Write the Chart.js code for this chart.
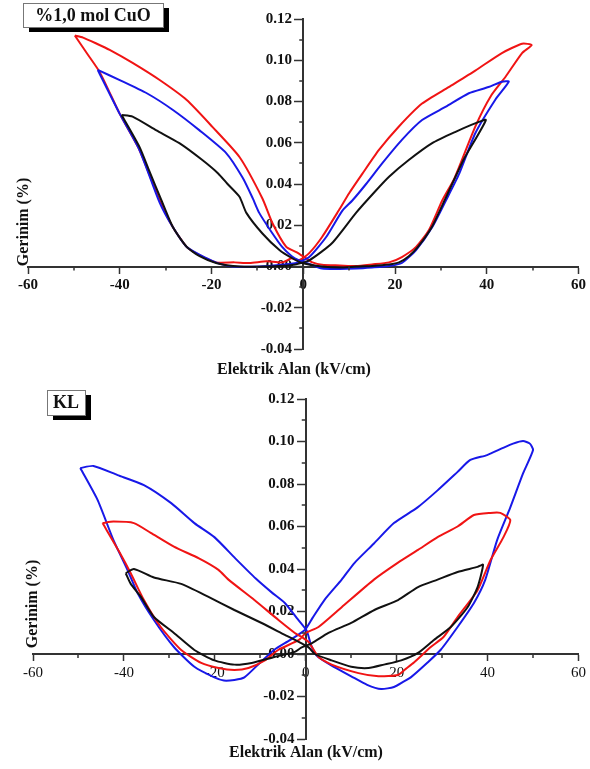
<!DOCTYPE html>
<html>
<head>
<meta charset="utf-8">
<script src="https://cdn.jsdelivr.net/npm/chart.js@4.4.0/dist/chart.umd.min.js"></script>
<style>
  body { margin: 0; background: #fff; }
  canvas { position: absolute; left: 0; }
  #cuo { top: 0; }
  #kl { top: 385px; }
</style>
</head>
<body>
<canvas id="cuo" width="590" height="385"></canvas>
<canvas id="kl" width="590" height="384"></canvas>
<script>
// ---- DATA ----
// top panel: %1,0 mol CuO
const cuoRedE = [-49.8,-48,-45,-42.2,-37.2,-31.3,-25.4,-19.8,-13.9,-8.9,-6.7,-3.7,-1.5,0.6, 2,4.1,8,11.5,15,18.7,21.5,24.6,27.4,30.3,33,37.5,41,44.1,47.7,49.8, 47.7,43.3,37.5,31.7,25.9,20.9,16.5,12.9,10,7.8,4.1,1.3,-0.9, -2.5,-4.6,-8,-11.7,-15,-19,-22.6,-25.4,-28.4,-31.3,-35.7,-40,-44.3,-47.2,-49.8];
const cuoRedS = [0.112,0.111,0.108,0.105,0.0987,0.0904,0.0807,0.0677,0.0531,0.033,0.021,0.0095,0.007,0.004, 0.002,0.0008,0.0005,0.0002,0.001,0.002,0.0046,0.0095,0.0177,0.032,0.043,0.0678,0.083,0.092,0.1035,0.1074, 0.108,0.1035,0.095,0.087,0.079,0.068,0.0565,0.045,0.0355,0.0274,0.0143,0.0065,0.003, 0.004,0.002,0.0025,0.0017,0.002,0.002,0.0055,0.0095,0.019,0.032,0.0565,0.074,0.094,0.1035,0.112];

const cuoBlueE = [-44.8,-40,-34.1,-28.4,-22.6,-16.8,-13.2,-11,-9.6,-7,-4.6,-2.5,-0.9,1, 4.1,8,11.5,15,18.7,21.5,24.6,28.1,31.1,34,37.5,41.9,44.8, 43.3,40.4,36.1,31.1,25.9,21.5,17.2,13.7,10.7,8.5,5,1.3,-1.5, -4,-9.6,-15.4,-18.5,-21.1,-25.4,-28.4,-31.3,-35.7,-40,-44.8];
const cuoBlueS = [0.0953,0.0904,0.084,0.0759,0.066,0.055,0.043,0.033,0.026,0.017,0.0095,0.005,0.003,0.0015, -0.001,-0.0012,-0.001,-0.0005,0.0002,0.0017,0.008,0.019,0.032,0.045,0.0646,0.081,0.0896, 0.0896,0.087,0.084,0.0775,0.071,0.0614,0.05,0.04,0.032,0.027,0.0143,0.0046,0.0017, 0.001,0,0,0.0015,0.004,0.0095,0.019,0.031,0.0565,0.074,0.0953];

const cuoBlackE = [-39.6,-37.2,-32,-27,-22,-18.5,-16.5,-13.9,-12.4,-8.9,-5.2,-2.4,-0.2, 4.1,8,11.5,15,18.7,20.9,23,25,28,31,35,39.8, 37.6,33.2,28.1,23,18.7,15.5,11.5,6.3,1.3, -2.4,-8,-13.9,-19,-22.6,-25.4,-28.4,-30.9,-33.5,-35.7,-39.6];
const cuoBlackS = [0.0735,0.0727,0.066,0.0598,0.0516,0.045,0.04,0.0338,0.026,0.016,0.008,0.004,0.0017, 0,-0.0005,0,0.0003,0.001,0.002,0.005,0.0095,0.019,0.033,0.052,0.071, 0.0695,0.0653,0.0598,0.0516,0.0435,0.036,0.026,0.0114,0.003, 0.0007,0,0,0.0017,0.005,0.0095,0.019,0.032,0.046,0.058,0.0735];

// bottom panel: KL
const klBlueE = [-49.6,-46.7,-41.4,-35.6,-29.6,-24.5,-20.1,-15.5,-11,-7.5,-4.6,-2,0.2,1.2,2.5, 5.7,10,13.5,16.6,19.4,21.5,23.1,26.8,29.7,33.4,37,39.5,42.1,45,47.8,50, 49.3,47.8,45.6,43.4,39.9,36.2,33.4,29,24.6,19.4,15,10.7,7.9,4.1,1.5,-0.2,-3.5,-6.9,-10,-13.5,-15.7,-18,-20.1,-24.5,-29,-33.4,-37,-39.2,-42.3,-45.8,-49.6];
const klBlueS = [0.0875,0.0885,0.0842,0.0795,0.071,0.0616,0.055,0.045,0.0355,0.029,0.024,0.017,0.011,0.004,-0.001, -0.0055,-0.0105,-0.0145,-0.0165,-0.0155,-0.013,-0.011,-0.004,0.002,0.0127,0.024,0.035,0.0536,0.069,0.085,0.096, 0.099,0.1002,0.099,0.097,0.0936,0.0913,0.0857,0.077,0.069,0.0616,0.052,0.0428,0.035,0.0254,0.017,0.0113,0.0065,0.002,-0.004,-0.011,-0.0122,-0.0125,-0.011,-0.006,0.0033,0.016,0.0287,0.0395,0.0536,0.0725,0.0875];

const klRedE = [-44.7,-42.3,-37.8,-34.1,-29,-23.5,-19.2,-17,-11.3,-6,-2.4,-0.9,0.7,2.8, 5.7,11.6,16,20.3,22,23.8,27.5,30.3,33.4,37.8,40.6,43.5,45, 42.8,40.6,37,33.4,29,24.7,20.3,15,7.9,2.8,0, -1.5,-6,-9,-12.6,-15.7,-19.2,-23,-27.4,-31.9,-35.6,-38.5,-41,-44.7];
const klRedS = [0.0616,0.0623,0.0616,0.057,0.0505,0.045,0.0396,0.035,0.0254,0.016,0.0099,0.008,0.0055,-0.0014, -0.005,-0.009,-0.0105,-0.0099,-0.007,-0.004,0.0033,0.008,0.0174,0.03,0.044,0.055,0.063, 0.0664,0.0664,0.0654,0.06,0.055,0.049,0.043,0.035,0.022,0.0127,0.0099, 0.0066,0.002,-0.003,-0.0066,-0.0075,-0.0066,-0.0042,0.0019,0.0127,0.0254,0.038,0.048,0.0616];

const klBlackE = [-39.6,-37.8,-33.4,-27.4,-21.5,-15.7,-9.7,-4.6,-0.9,0.7,2, 5.7,10,13.8,17.2,21,24.7,28.2,31.9,35.6,37.8,39, 37.8,33.4,29,24.7,20.3,15.1,10,5,1.3,-1, -2.4,-6.9,-11.9,-15.7,-20.1,-24.5,-29,-33.4,-36.3,-38.5,-39.6];
const klBlackS = [0.038,0.04,0.036,0.033,0.027,0.0207,0.0146,0.009,0.005,0.003,0, -0.003,-0.006,-0.0066,-0.005,-0.003,0.0005,0.0066,0.0127,0.022,0.0315,0.042, 0.041,0.0386,0.035,0.0315,0.0254,0.0207,0.0146,0.0099,0.005,0.003, 0.001,-0.0014,-0.0042,-0.005,-0.003,0.0019,0.0099,0.0174,0.027,0.033,0.038];

// axis ticks
const xMajorStep = 20;
const yMajorStep = 0.02;
const xMinorTicks = [-50, -30, -10, 10, 30, 50];
const yMinorTicks = [-0.03, -0.01, 0.01, 0.03, 0.05, 0.07, 0.09, 0.11];

const xTitle = 'Elektrik Alan (kV/cm)';
const yTitle = 'Gerinim (%)';

const RED = '#f01414', BLUE = '#1818e8', BLACK = '#111111', AXIS = '#333333';
const SERIF = '"Liberation Serif", "Times New Roman", serif';

function toPoints(xs, ys) {
  return xs.map((x, i) => ({ x: x, y: ys[i] }));
}

function line(label, xs, ys, color) {
  return {
    label: label, data: toPoints(xs, ys), borderColor: color, borderWidth: 2,
    showLine: true, pointRadius: 0, tension: 0.2, fill: false
  };
}

// minor ticks, axis titles and the sample label box
const decorations = {
  id: 'decorations',
  afterDraw(chart, args, o) {
    const ctx = chart.ctx;
    const sx = chart.scales.x, sy = chart.scales.y;
    const x0 = sx.getPixelForValue(0), y0 = sy.getPixelForValue(0);
    ctx.save();
    ctx.strokeStyle = AXIS;
    ctx.lineWidth = 1.5;
    ctx.beginPath();
    xMinorTicks.forEach(v => {
      const px = Math.round(sx.getPixelForValue(v));
      ctx.moveTo(px, y0); ctx.lineTo(px, y0 + 4);
    });
    yMinorTicks.forEach(v => {
      const py = Math.round(sy.getPixelForValue(v));
      ctx.moveTo(x0, py); ctx.lineTo(x0 - 4, py);
    });
    ctx.stroke();

    ctx.fillStyle = '#111';
    ctx.font = 'bold 16px ' + SERIF;
    ctx.textAlign = 'center';
    ctx.textBaseline = 'middle';
    ctx.fillText(xTitle, o.xTitleX, o.xTitleY);
    ctx.save();
    ctx.translate(o.yTitleX, o.yTitleY);
    ctx.rotate(-Math.PI / 2);
    ctx.fillText(yTitle, 0, 0);
    ctx.restore();

    // label box with a drop shadow
    const b = o.box;
    ctx.fillStyle = '#000';
    ctx.fillRect(b.x + 6, b.y + 5, b.w, b.h);
    ctx.fillStyle = '#fff';
    ctx.fillRect(b.x, b.y, b.w, b.h);
    ctx.strokeStyle = '#777';
    ctx.lineWidth = 1;
    ctx.strokeRect(b.x + 0.5, b.y + 0.5, b.w, b.h);
    ctx.fillStyle = '#111';
    ctx.font = 'bold 18px ' + SERIF;
    ctx.fillText(b.text, b.x + b.w / 2, b.y + b.h / 2 + 1);
    ctx.restore();
  }
};

function makeChart(id, datasets, pad, xBold, deco) {
  const tickFont = (bold) => ({ family: SERIF, size: 15, weight: bold ? 'bold' : 'normal' });
  return new Chart(document.getElementById(id), {
    type: 'scatter',
    data: { datasets: datasets },
    options: {
      responsive: false,
      animation: false,
      layout: { padding: pad },
      plugins: { legend: { display: false }, tooltip: { enabled: false }, decorations: deco },
      scales: {
        x: {
          type: 'linear', min: -60, max: 60, position: { y: 0 },
          grid: { drawOnChartArea: false, drawTicks: true, tickLength: 6, tickWidth: 1.5, tickColor: AXIS },
          border: { color: AXIS, width: 2 },
          ticks: { stepSize: xMajorStep, autoSkip: false, maxRotation: 0, color: '#111', padding: 4,
                   font: tickFont(xBold), callback: v => String(v) }
        },
        y: {
          type: 'linear', min: -0.04, max: 0.12, position: { x: 0 },
          grid: { drawOnChartArea: false, drawTicks: true, tickLength: 8, tickWidth: 1.5, tickColor: AXIS },
          border: { color: AXIS, width: 2 },
          // centred axis: labels sit on the axis pixel, so pad them on the right
          ticks: { stepSize: yMajorStep, autoSkip: false, color: '#111',
                   font: tickFont(true), callback: v => v.toFixed(2) + '   ' }
        }
      }
    },
    plugins: [decorations]
  });
}

makeChart('cuo', [
  line('black', cuoBlackE, cuoBlackS, BLACK),
  line('blue', cuoBlueE, cuoBlueS, BLUE),
  line('red', cuoRedE, cuoRedS, RED)
], { left: 28, right: 11, top: 19, bottom: 36 }, true, {
  xTitleX: 294, xTitleY: 370, yTitleX: 24, yTitleY: 222,
  box: { x: 23, y: 3, w: 140, h: 24, text: '%1,0 mol CuO' }
});

makeChart('kl', [
  line('black', klBlackE, klBlackS, BLACK),
  line('red', klRedE, klRedS, RED),
  line('blue', klBlueE, klBlueS, BLUE)
], { left: 33, right: 11, top: 14, bottom: 30 }, false, {
  xTitleX: 306, xTitleY: 368, yTitleX: 33, yTitleY: 219,
  box: { x: 47, y: 5, w: 38, h: 25, text: 'KL' }
});
</script>
</body>
</html>
